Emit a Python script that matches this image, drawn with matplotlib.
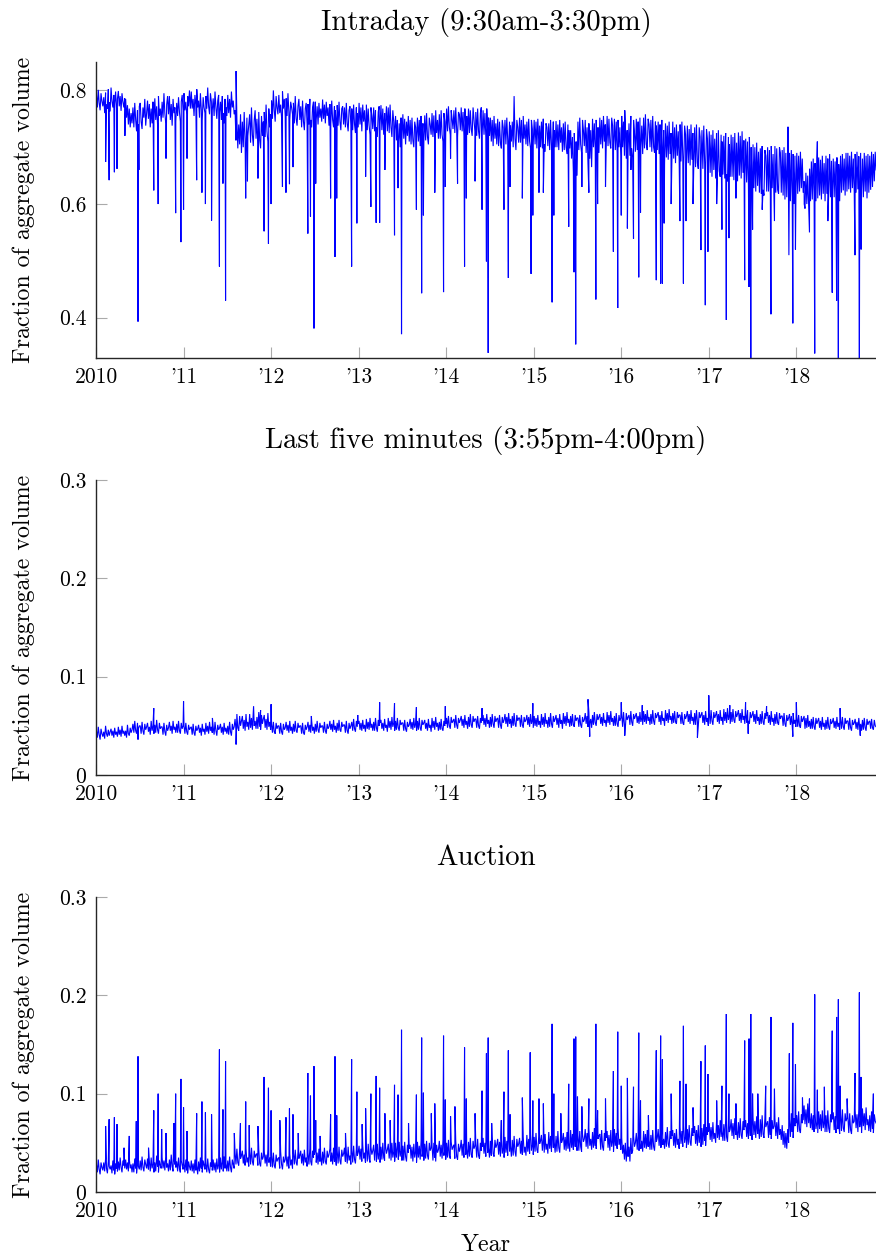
import numpy as np
import matplotlib
matplotlib.use("Agg")
import matplotlib.pyplot as plt

# ---------------- data ----------------
# Eight readings per month (Jan 2010 - Nov 2018), in thousandths; "|" separates months
intraday_base = [
    "792 770 801 778 765 795 781 772 | 788 760 796 775 768 802 779 763 | 805 781 770 792 776 798 768 785 | 799 772 790 764 795 780 770 786 | 785 752 774 740 768 735 760 742 | 770 735 778 748 728 765 740 772 | 778 745 732 770 752 785 738 760 | 782 750 776 735 768 742 780 745 | 786 748 772 740 790 755 768 745 | 780 752 795 760 742 775 790 758 | 790 748 776 738 785 760 770 745 | 778 755 788 762 745 780 792 765",
    "795 765 780 758 790 772 800 768 | 798 768 785 755 792 775 802 770 | 782 752 795 765 748 788 770 760 | 790 768 805 772 758 795 780 765 | 786 755 798 770 750 782 792 762 | 780 748 790 760 742 785 770 755 | 792 760 785 752 798 770 782 758 | 765 712 748 698 740 705 758 690 | 745 700 762 715 690 752 720 740 | 758 708 770 722 702 748 765 715 | 750 705 762 712 698 755 720 745 | 762 718 775 728 710 768 735 758",
    "782 750 800 765 745 790 770 758 | 792 760 775 752 798 768 785 755 | 786 755 795 762 748 780 770 758 | 778 742 790 750 738 772 785 748 | 772 735 782 745 730 768 778 740 | 776 740 785 748 735 770 780 745 | 780 748 772 740 778 752 768 745 | 784 750 775 742 780 755 770 738 | 776 742 782 748 735 772 765 745 | 774 738 780 745 730 768 772 740 | 770 735 778 742 728 765 772 738 | 768 730 775 740 725 770 760 735",
    "778 740 770 728 775 745 765 735 | 775 730 768 738 722 770 755 732 | 770 728 765 735 718 762 772 740 | 774 730 768 722 760 738 772 728 | 770 725 775 735 718 765 745 730 | 755 712 748 705 742 700 752 715 | 758 715 750 705 745 720 755 710 | 748 705 752 712 700 745 735 715 | 752 710 748 702 755 720 742 708 | 756 712 760 718 705 752 740 722 | 760 718 756 712 765 725 748 715 | 758 715 765 722 710 760 745 725",
    "768 728 772 735 722 765 750 732 | 765 725 770 732 718 762 758 730 | 770 728 762 720 768 735 755 722 | 768 725 765 732 720 770 748 728 | 762 720 768 728 715 760 770 725 | 765 722 760 718 768 730 752 720 | 752 710 748 702 755 715 742 705 | 750 702 745 708 698 748 735 712 | 748 705 752 712 700 745 738 710 | 745 700 790 715 695 748 735 708 | 752 708 748 702 755 715 740 705 | 745 702 750 710 698 748 732 708",
    "748 705 745 698 750 712 738 700 | 745 698 750 705 692 742 735 702 | 742 695 748 702 690 745 730 700 | 746 700 740 695 748 708 735 692 | 742 695 745 700 688 740 730 698 | 730 680 718 655 725 660 710 650 | 745 695 752 705 690 748 730 702 | 748 690 735 672 742 680 730 665 | 750 700 742 695 748 705 735 690 | 752 705 748 698 755 710 740 700 | 755 702 750 708 698 752 738 705 | 750 695 745 690 748 700 735 685",
    "755 700 745 685 740 680 730 695 | 742 685 755 698 682 748 725 692 | 750 695 745 690 752 700 738 688 | 752 698 758 705 695 750 740 700 | 748 692 755 700 690 745 738 695 | 745 688 740 680 748 685 730 672 | 742 682 738 678 745 688 725 675 | 745 680 735 672 740 685 728 678 | 740 675 745 680 668 738 722 672 | 738 672 732 668 740 678 725 665 | 735 665 740 672 662 735 718 668 | 730 662 738 670 660 732 715 665",
    "728 655 722 648 730 660 715 645 | 725 650 730 658 648 722 710 652 | 720 645 725 652 640 718 705 648 | 722 648 718 642 725 655 708 640 | 726 650 720 645 728 655 712 642 | 715 638 710 632 718 642 700 630 | 705 628 700 622 708 632 692 620 | 698 618 702 625 615 695 685 622 | 700 622 695 615 702 628 688 612 | 702 620 698 625 618 700 690 620 | 695 615 700 608 690 612 682 605 | 690 605 695 612 688 600 685 610",
    "690 618 685 622 692 628 680 620 | 640 592 655 600 650 595 662 605 | 675 608 680 612 672 605 682 610 | 682 615 678 608 685 618 672 605 | 685 618 680 620 688 612 676 618 | 680 612 675 606 682 615 670 605 | 685 620 688 624 680 615 690 622 | 690 626 685 620 692 628 680 620 | 688 620 692 626 684 618 690 625 | 680 612 690 622 685 610 688 620 | 685 625 692 630 688 640 692 660",
]
intraday_spike_dates = [
    2010.11, 2010.15, 2010.21, 2010.24, 2010.33, 2010.48, 2010.49, 2010.66, 2010.71, 2010.80,
    2010.91, 2010.97, 2011.00, 2011.04, 2011.15, 2011.21, 2011.25, 2011.32, 2011.41, 2011.45,
    2011.48, 2011.60, 2011.71, 2011.73, 2011.85, 2011.92, 2011.97, 2012.00, 2012.13, 2012.17,
    2012.21, 2012.25, 2012.42, 2012.45, 2012.49, 2012.51, 2012.68, 2012.73, 2012.75, 2012.92,
    2012.98, 2013.08, 2013.14, 2013.20, 2013.24, 2013.30, 2013.41, 2013.45, 2013.49, 2013.66,
    2013.72, 2013.74, 2013.87, 2013.97, 2013.99, 2014.05, 2014.13, 2014.21, 2014.23, 2014.33,
    2014.41, 2014.46, 2014.48, 2014.66, 2014.71, 2014.73, 2014.87, 2014.97, 2014.99, 2015.06,
    2015.11, 2015.21, 2015.23, 2015.40, 2015.46, 2015.48, 2015.55, 2015.63, 2015.71, 2015.73,
    2015.82, 2015.91, 2015.96, 2016.00, 2016.04, 2016.07, 2016.11, 2016.14, 2016.20, 2016.22,
    2016.40, 2016.45, 2016.47, 2016.49, 2016.57, 2016.67, 2016.71, 2016.74, 2016.82, 2016.91,
    2016.96, 2016.99, 2017.09, 2017.15, 2017.20, 2017.23, 2017.31, 2017.41, 2017.46, 2017.48,
    2017.50, 2017.61, 2017.71, 2017.75, 2017.905, 2017.915, 2017.96, 2017.99, 2018.09, 2018.15,
    2018.21, 2018.24, 2018.36, 2018.41, 2018.46, 2018.48, 2018.67, 2018.72, 2018.74,
]
intraday_spike_values = [
    0.674, 0.642, 0.656, 0.662, 0.720, 0.393, 0.660, 0.624, 0.600, 0.680,
    0.584, 0.533, 0.590, 0.680, 0.642, 0.620, 0.600, 0.571, 0.490, 0.636,
    0.430, 0.834, 0.610, 0.640, 0.645, 0.552, 0.530, 0.600, 0.630, 0.620,
    0.635, 0.665, 0.548, 0.578, 0.381, 0.636, 0.610, 0.507, 0.610, 0.490,
    0.566, 0.648, 0.595, 0.567, 0.567, 0.660, 0.545, 0.628, 0.371, 0.590,
    0.443, 0.580, 0.620, 0.445, 0.630, 0.680, 0.636, 0.490, 0.610, 0.640,
    0.590, 0.499, 0.338, 0.590, 0.470, 0.630, 0.610, 0.477, 0.580, 0.620,
    0.620, 0.427, 0.580, 0.560, 0.480, 0.353, 0.630, 0.620, 0.432, 0.600,
    0.630, 0.516, 0.417, 0.580, 0.765, 0.557, 0.660, 0.539, 0.471, 0.585,
    0.466, 0.460, 0.460, 0.566, 0.600, 0.570, 0.460, 0.570, 0.600, 0.519,
    0.422, 0.516, 0.600, 0.555, 0.396, 0.540, 0.610, 0.466, 0.454, 0.300,
    0.555, 0.590, 0.406, 0.570, 0.736, 0.510, 0.390, 0.520, 0.600, 0.550,
    0.337, 0.710, 0.570, 0.444, 0.430, 0.300, 0.510, 0.300, 0.520,
]

last5_base = [
    "45 38 49 41 36 47 42 39 | 44 37 50 42 39 46 40 44 | 47 40 45 38 48 41 44 39 | 49 41 46 39 50 42 45 40 | 45 38 51 42 40 48 43 46 | 52 43 55 45 42 53 47 50 | 50 42 54 45 41 52 46 49 | 53 44 49 41 55 45 50 42 | 51 43 56 46 42 53 47 49 | 49 41 53 44 40 51 45 48 | 54 45 50 42 55 46 49 43 | 52 43 55 45 42 53 47 50",
    "50 42 53 44 41 51 46 48 | 49 41 52 43 40 50 45 47 | 51 43 48 40 52 44 47 41 | 53 44 50 42 54 45 49 43 | 49 41 54 45 40 51 46 48 | 52 43 49 41 53 44 48 42 | 50 41 54 44 40 52 46 49 | 57 46 62 48 45 60 50 55 | 60 47 56 45 62 49 54 46 | 62 48 58 46 64 50 55 47 | 59 47 64 49 46 61 52 57 | 61 48 57 46 63 49 54 46",
    "52 43 54 44 42 53 47 50 | 50 42 53 44 41 52 46 48 | 54 45 51 43 55 45 49 42 | 52 44 55 45 43 53 48 50 | 50 42 53 43 41 51 46 49 | 54 44 51 43 55 45 49 42 | 52 44 55 46 43 53 48 50 | 50 43 54 45 42 52 47 49 | 55 46 52 44 56 46 50 43 | 53 45 56 46 44 54 49 51 | 51 43 55 45 42 53 47 50 | 54 45 57 47 44 55 49 52",
    "55 46 53 45 56 47 51 44 | 57 47 54 46 58 48 52 45 | 54 45 58 48 44 56 50 53 | 56 47 53 45 57 48 51 44 | 58 48 55 46 59 49 53 45 | 55 46 58 48 45 56 51 53 | 53 45 56 47 44 54 49 51 | 57 47 54 46 58 48 52 45 | 55 46 58 48 45 56 51 53 | 56 47 53 45 57 48 51 44 | 58 48 55 46 59 49 53 45 | 54 46 57 47 45 55 50 52",
    "58 48 60 50 47 59 53 55 | 57 48 61 51 47 58 53 56 | 60 50 57 48 61 51 55 47 | 59 49 62 51 48 60 54 57 | 57 48 60 50 47 58 53 55 | 61 51 58 49 62 52 56 48 | 59 49 62 52 48 60 54 57 | 58 48 61 51 47 59 53 56 | 62 52 59 49 63 52 57 48 | 60 50 63 52 49 61 55 58 | 58 49 61 51 48 59 54 56 | 61 51 59 49 62 52 56 48",
    "60 50 58 49 61 51 55 48 | 62 51 59 49 63 52 56 48 | 59 49 63 52 48 60 54 57 | 61 51 58 48 62 52 56 47 | 63 52 60 50 64 53 57 49 | 60 50 62 51 49 61 55 58 | 58 49 61 51 48 59 54 56 | 63 52 60 49 64 52 57 48 | 61 51 64 53 50 62 56 59 | 62 52 59 50 63 53 56 49 | 64 53 61 51 65 54 58 50 | 60 50 63 52 49 61 55 58",
    "62 49 64 51 48 63 56 59 | 61 51 65 54 50 62 57 60 | 63 53 60 52 64 54 58 51 | 65 54 62 52 66 55 59 51 | 62 52 66 55 51 63 58 61 | 64 54 61 51 65 55 58 50 | 66 55 63 53 67 56 60 52 | 63 53 65 54 52 64 58 61 | 61 52 64 53 51 62 57 60 | 65 54 62 52 66 55 59 51 | 63 51 66 54 50 64 58 61 | 64 53 61 51 65 54 58 50",
    "63 52 66 55 51 64 58 61 | 65 54 62 52 66 55 59 51 | 67 55 64 53 68 56 61 52 | 64 54 67 56 53 65 59 62 | 66 55 63 53 67 56 60 52 | 63 53 66 55 52 64 58 61 | 65 54 62 52 66 55 59 51 | 62 52 65 54 51 63 57 60 | 64 53 61 51 65 54 58 50 | 62 52 64 53 51 63 57 60 | 60 50 63 52 49 61 55 58 | 62 51 60 50 63 52 56 49",
    "59 49 61 50 48 60 54 57 | 60 47 58 48 61 49 55 47 | 57 47 59 49 46 58 52 55 | 58 48 55 46 59 49 53 46 | 56 47 59 49 46 57 52 54 | 58 48 55 47 59 49 53 46 | 57 47 59 49 46 58 52 55 | 55 46 58 48 45 56 51 53 | 57 47 54 46 58 48 52 45 | 56 46 58 48 45 57 51 54 | 55 47 57 48 46 56 50 49",
]
last5_spike_dates = [
    2010.48, 2010.66, 2011.00, 2011.33, 2011.60, 2011.80, 2011.88, 2012.00, 2012.46, 2012.99,
    2013.24, 2013.41, 2013.66, 2013.99, 2014.41, 2014.99, 2015.62, 2015.64, 2016.00, 2016.04,
    2016.24, 2016.87, 2017.00, 2017.24, 2017.42, 2017.45, 2017.66, 2017.96, 2018.00, 2018.50,
    2018.73,
]
last5_spike_values = [
    0.036, 0.068, 0.075, 0.058, 0.031, 0.070, 0.066, 0.072, 0.060, 0.061,
    0.074, 0.073, 0.069, 0.070, 0.068, 0.073, 0.077, 0.039, 0.074, 0.040,
    0.071, 0.038, 0.081, 0.071, 0.074, 0.042, 0.070, 0.039, 0.074, 0.068,
    0.040,
]

auction_base = [
    "28 20 33 23 18 30 25 22 | 30 21 34 24 19 31 26 23 | 27 19 32 22 18 29 24 21 | 31 22 35 25 20 32 27 24 | 33 23 30 21 34 24 28 20 | 29 20 34 24 19 31 26 23 | 32 22 36 25 21 33 28 24 | 34 23 31 21 35 24 29 20 | 30 21 37 26 20 32 27 24 | 35 24 32 22 36 25 29 21 | 33 22 38 26 21 34 28 25 | 31 21 35 24 20 32 27 23",
    "30 20 33 22 19 31 26 22 | 32 21 29 19 33 22 27 18 | 31 21 35 24 20 32 27 23 | 29 20 34 23 19 30 26 22 | 33 22 30 20 34 23 28 20 | 35 23 31 21 36 24 29 21 | 32 21 36 25 20 33 28 24 | 40 28 44 30 27 42 34 37 | 42 29 38 27 44 30 35 26 | 41 28 45 31 27 42 35 38 | 39 27 43 29 26 40 33 36 | 42 29 38 26 43 30 35 26",
    "37 25 40 27 24 38 31 34 | 35 24 41 28 23 36 30 33 | 38 26 36 24 39 27 33 24 | 40 28 43 30 27 41 34 37 | 42 29 39 27 43 30 35 26 | 40 28 44 31 27 42 35 38 | 43 30 40 28 44 31 36 27 | 41 29 45 31 28 42 35 38 | 44 31 40 28 45 31 37 27 | 42 29 46 32 28 43 36 39 | 45 31 41 29 46 32 37 28 | 43 30 47 33 29 44 37 40",
    "47 33 44 31 48 34 40 30 | 45 31 49 34 30 46 38 42 | 48 32 45 31 49 33 40 30 | 46 33 50 35 32 47 39 43 | 49 34 46 32 50 35 41 31 | 50 35 47 33 51 36 42 32 | 47 32 51 36 31 48 40 44 | 48 34 46 31 49 35 41 30 | 51 35 47 33 52 36 42 32 | 49 34 52 37 33 50 42 45 | 47 32 50 35 31 48 40 43 | 52 36 48 34 53 37 43 33",
    "50 35 53 37 34 51 43 46 | 48 34 52 36 33 49 41 45 | 53 37 49 35 54 38 44 34 | 51 36 55 38 35 52 44 47 | 49 35 54 37 34 50 42 46 | 55 39 50 36 56 40 45 35 | 52 37 56 39 36 53 45 48 | 54 38 51 36 55 39 45 35 | 56 40 52 37 57 41 47 36 | 53 37 57 41 36 54 46 49 | 55 39 52 38 56 40 46 37 | 58 41 54 39 59 42 48 38",
    "56 41 60 43 40 57 49 52 | 58 42 55 40 59 43 49 39 | 61 44 57 41 62 45 51 40 | 57 41 62 45 40 58 50 53 | 60 43 56 42 61 44 50 41 | 63 45 59 43 64 46 53 42 | 58 42 62 46 41 59 51 54 | 64 46 60 44 65 47 54 43 | 61 45 65 47 44 62 54 57 | 59 43 63 46 42 60 52 55 | 62 45 58 42 63 46 52 41 | 64 47 60 44 65 48 54 43",
    "55 39 48 33 50 31 45 36 | 46 31 55 39 42 57 46 50 | 60 43 58 42 61 44 52 41 | 62 45 59 44 63 46 53 43 | 58 43 63 46 42 59 51 55 | 64 47 60 45 65 48 54 44 | 61 46 66 49 45 62 54 57 | 63 47 60 45 64 48 54 44 | 66 49 62 46 67 50 56 45 | 64 48 68 51 47 65 57 60 | 67 49 63 47 68 50 57 46 | 65 48 69 52 47 66 58 61",
    "70 53 66 51 71 54 60 50 | 72 55 68 53 73 56 62 52 | 69 52 73 56 51 70 61 64 | 74 57 70 54 75 58 63 53 | 71 55 75 58 54 72 63 66 | 73 56 70 54 74 57 63 53 | 76 58 72 55 77 59 65 54 | 74 56 78 59 55 75 66 69 | 72 55 76 58 54 73 64 67 | 75 57 71 54 76 58 64 53 | 68 48 62 45 60 44 64 50 | 74 56 80 61 55 75 67 70",
    "78 61 82 63 60 79 70 73 | 88 69 84 66 90 70 78 65 | 80 63 78 61 81 64 71 60 | 82 64 79 62 83 65 72 61 | 78 61 83 65 60 79 71 74 | 81 63 77 60 82 64 70 59 | 79 62 84 65 61 80 72 75 | 77 60 80 63 59 78 70 72 | 83 65 79 61 84 66 73 60 | 85 67 80 63 86 68 74 62 | 78 61 82 64 60 79 72 70",
]
auction_spike_dates = [
    2010.11, 2010.15, 2010.21, 2010.24, 2010.32, 2010.38, 2010.46, 2010.48, 2010.60, 2010.66,
    2010.71, 2010.75, 2010.80, 2010.89, 2010.91, 2010.97, 2011.00, 2011.04, 2011.15, 2011.21,
    2011.25, 2011.32, 2011.41, 2011.45, 2011.48, 2011.58, 2011.65, 2011.71, 2011.75, 2011.85,
    2011.92, 2011.97, 2012.00, 2012.10, 2012.17, 2012.21, 2012.25, 2012.31, 2012.42, 2012.45,
    2012.49, 2012.51, 2012.56, 2012.68, 2012.73, 2012.75, 2012.85, 2012.92, 2012.98, 2013.04,
    2013.08, 2013.14, 2013.20, 2013.24, 2013.30, 2013.36, 2013.41, 2013.45, 2013.49, 2013.57,
    2013.66, 2013.72, 2013.74, 2013.83, 2013.87, 2013.97, 2013.99, 2014.05, 2014.10, 2014.21,
    2014.23, 2014.33, 2014.41, 2014.46, 2014.48, 2014.52, 2014.63, 2014.66, 2014.71, 2014.73,
    2014.87, 2014.96, 2014.99, 2015.06, 2015.11, 2015.21, 2015.23, 2015.31, 2015.40, 2015.46,
    2015.48, 2015.50, 2015.55, 2015.63, 2015.71, 2015.73, 2015.82, 2015.91, 2015.96, 2016.00,
    2016.07, 2016.14, 2016.20, 2016.22, 2016.31, 2016.40, 2016.45, 2016.47, 2016.57, 2016.67,
    2016.71, 2016.74, 2016.82, 2016.91, 2016.96, 2016.99, 2017.09, 2017.15, 2017.20, 2017.23,
    2017.31, 2017.41, 2017.46, 2017.48, 2017.50, 2017.56, 2017.65, 2017.71, 2017.75, 2017.92,
    2017.96, 2017.99, 2018.07, 2018.15, 2018.21, 2018.24, 2018.32, 2018.41, 2018.46, 2018.48,
    2018.50, 2018.58, 2018.67, 2018.72, 2018.74, 2018.88,
]
auction_spike_values = [
    0.067, 0.074, 0.076, 0.069, 0.045, 0.057, 0.072, 0.138, 0.045, 0.083,
    0.100, 0.064, 0.060, 0.070, 0.100, 0.115, 0.086, 0.062, 0.080, 0.092,
    0.081, 0.079, 0.145, 0.084, 0.133, 0.060, 0.070, 0.092, 0.068, 0.067,
    0.117, 0.106, 0.083, 0.073, 0.076, 0.085, 0.079, 0.060, 0.121, 0.098,
    0.128, 0.073, 0.057, 0.079, 0.138, 0.078, 0.060, 0.135, 0.102, 0.069,
    0.085, 0.100, 0.118, 0.106, 0.080, 0.073, 0.109, 0.099, 0.165, 0.070,
    0.099, 0.157, 0.101, 0.080, 0.090, 0.159, 0.094, 0.077, 0.087, 0.147,
    0.095, 0.080, 0.103, 0.141, 0.157, 0.070, 0.073, 0.102, 0.144, 0.079,
    0.096, 0.142, 0.093, 0.095, 0.090, 0.171, 0.100, 0.080, 0.110, 0.156,
    0.158, 0.097, 0.087, 0.095, 0.171, 0.083, 0.095, 0.123, 0.163, 0.108,
    0.116, 0.107, 0.162, 0.093, 0.078, 0.144, 0.159, 0.135, 0.100, 0.113,
    0.169, 0.110, 0.086, 0.133, 0.149, 0.120, 0.093, 0.108, 0.181, 0.100,
    0.090, 0.154, 0.156, 0.181, 0.100, 0.100, 0.108, 0.178, 0.105, 0.141,
    0.172, 0.130, 0.096, 0.095, 0.201, 0.104, 0.107, 0.164, 0.178, 0.196,
    0.108, 0.095, 0.121, 0.203, 0.117, 0.100,
]

titles = ["Intraday (9:30am-3:30pm)", "Last five minutes (3:55pm-4:00pm)", "Auction"]
year_ticks = list(range(2010, 2019))
year_labels = ["2010", "'11", "'12", "'13", "'14", "'15", "'16", "'17", "'18"]
ylabel = "Fraction of aggregate volume"
xlabel = "Year"

READINGS_PER_MONTH = 8


def build(base_strings, spike_dates, spike_values):
    vals = np.array([int(v) for s in base_strings for v in s.replace("|", " ").split()],
                    dtype=float) / 1000.0
    # readings are evenly spread within each month, starting Jan 2010
    dates = 2010 + (np.arange(len(vals)) + 0.5) / (12.0 * READINGS_PER_MONTH)
    x = np.concatenate([dates, np.asarray(spike_dates, float)])
    y = np.concatenate([vals, np.asarray(spike_values, float)])
    order = np.argsort(x, kind="stable")
    return x[order], y[order]


series = [
    build(intraday_base, intraday_spike_dates, intraday_spike_values),
    build(last5_base, last5_spike_dates, last5_spike_values),
    build(auction_base, auction_spike_dates, auction_spike_values),
]

# ---------------- styling ----------------
plt.rcParams["font.family"] = ["cmr10", "DejaVu Serif"]
plt.rcParams["mathtext.fontset"] = "cm"
plt.rcParams["axes.formatter.use_mathtext"] = True

W, H = 876, 1258
fig = plt.figure(figsize=(W / 100, H / 100), dpi=100)

# axes boxes in pixels: (top, bottom)
boxes = [(62, 358), (480, 775), (897, 1192)]
left_px, right_px = 96, 876

ylims = [(0.329, 0.850), (0.0, 0.3), (0.0, 0.3)]
yticks = [[0.4, 0.6, 0.8], [0, 0.1, 0.2, 0.3], [0, 0.1, 0.2, 0.3]]
ytick_labels = [["0.4", "0.6", "0.8"], ["0", "0.1", "0.2", "0.3"], ["0", "0.1", "0.2", "0.3"]]

TICK_FS = 15.5
LABEL_FS = 17.2
TITLE_FS = 20.7

for i, ((top, bot), (x, y)) in enumerate(zip(boxes, series)):
    ax = fig.add_axes([left_px / W, 1 - bot / H, (right_px - left_px) / W, (bot - top) / H])
    ax.plot(x, y, color="#0000ff", lw=0.8, solid_joinstyle="miter")
    ax.set_xlim(2010.0, 2018.91)
    ax.set_ylim(*ylims[i])
    ax.set_xticks(year_ticks)
    ax.set_xticklabels(year_labels)
    ax.set_yticks(yticks[i])
    ax.set_yticklabels(ytick_labels[i])
    for s in ("top", "right"):
        ax.spines[s].set_visible(False)
    for s in ("left", "bottom"):
        ax.spines[s].set_color("#262626")
        ax.spines[s].set_linewidth(1.0)
    ax.tick_params(axis="both", direction="in", length=8, width=0.8, color="#aaaaaa",
                   labelsize=TICK_FS, labelcolor="black", pad=7)
    ax.set_title(titles[i], fontsize=TITLE_FS, pad=23)
    ax.set_ylabel(ylabel, fontsize=LABEL_FS)
    ax.yaxis.set_label_coords(-0.078, 0.5)
    if i == 2:
        ax.set_xlabel(xlabel, fontsize=LABEL_FS, labelpad=9)

fig.savefig("out.png", dpi=100)
